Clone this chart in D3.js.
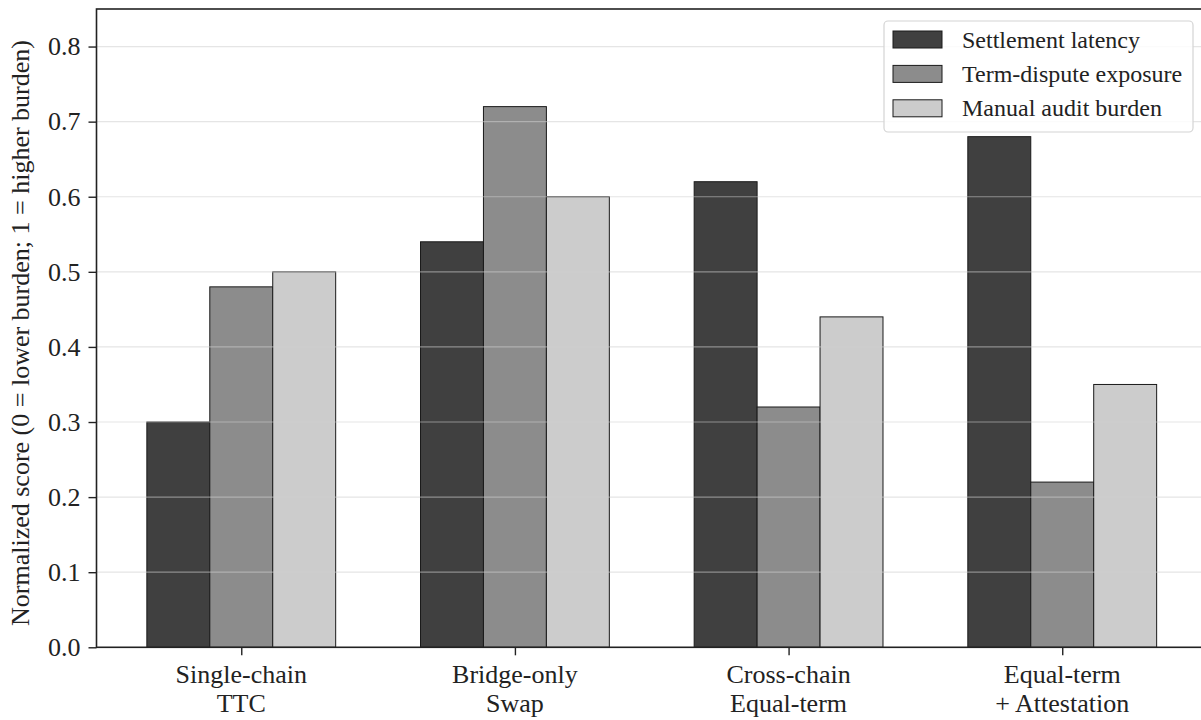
<!DOCTYPE html>
<html><head><meta charset="utf-8">
<script src="https://cdn.jsdelivr.net/npm/d3@7"></script>
<style>body{margin:0;background:#fff}svg{display:block}text{font-family:"Liberation Serif","Times New Roman",serif;fill:#222}</style>
</head><body><svg id="c" width="1201" height="720"></svg>
<script>
const categories = [["Single-chain","TTC"],["Bridge-only","Swap"],["Cross-chain","Equal-term"],["Equal-term","+ Attestation"]];
const seriesNames = ["Settlement latency","Term-dispute exposure","Manual audit burden"];
const settlementLatency = [0.30, 0.54, 0.62, 0.68];
const termDispute = [0.48, 0.72, 0.32, 0.22];
const manualAudit = [0.50, 0.60, 0.44, 0.35];
const yTicks = [0.0,0.1,0.2,0.3,0.4,0.5,0.6,0.7,0.8];
const colors = ["#404040","#8c8c8c","#cccccc"];
const series = [settlementLatency, termDispute, manualAudit];

const svg = d3.select("#c");
const L = 96.5, R = 1207, T = 9, B = 647.3;
const x = d3.scaleLinear().domain([-0.529, 3.529]).range([L, R]);
const y = d3.scaleLinear().domain([0, 0.85]).range([B, T]);
const bw = 0.23;

const g = svg.append("g");
series.forEach((vals, s) => {
  g.selectAll(null).data(vals).enter().append("rect")
    .attr("x", (d,i) => x(i + (s-1)*bw - bw/2))
    .attr("width", x(bw) - x(0))
    .attr("y", d => y(d))
    .attr("height", d => y(0) - y(d))
    .attr("fill", colors[s]).attr("stroke", "#1a1a1a").attr("stroke-width", 1);
});
// grid
svg.append("g").selectAll("line").data(yTicks.filter(d=>d>0)).enter().append("line")
  .attr("x1", L).attr("x2", R).attr("y1", d=>y(d)).attr("y2", d=>y(d))
  .attr("stroke", "#d0d0d0").attr("stroke-opacity", 0.55).attr("stroke-width", 1.2);

// axes
const ya = d3.axisLeft(y).tickValues(yTicks).tickFormat(d3.format(".1f")).tickSize(8).tickPadding(8);
const yg = svg.append("g").attr("transform", `translate(${L},0)`).call(ya);
yg.select(".domain").remove();
yg.selectAll("line").attr("stroke","#222").attr("stroke-width",1.4);
yg.selectAll("text").attr("font-size",26).attr("font-family","Liberation Serif").attr("fill","#222");

const xa = d3.axisBottom(x).tickValues([0,1,2,3]).tickFormat("").tickSize(8);
const xg = svg.append("g").attr("transform", `translate(0,${B})`).call(xa);
xg.select(".domain").remove();
xg.selectAll("line").attr("stroke","#222").attr("stroke-width",1.4);
categories.forEach((c,i) => {
  const t = svg.append("text").attr("x", x(i)).attr("text-anchor","middle").attr("font-size",26);
  t.append("tspan").attr("x", x(i)).attr("y", 683).text(c[0]);
  t.append("tspan").attr("x", x(i)).attr("y", 712).text(c[1]);
});

// spines
svg.append("rect").attr("x", L).attr("y", T).attr("width", R-L).attr("height", B-T)
  .attr("fill","none").attr("stroke","#222").attr("stroke-width",1.6);

// y label
svg.append("text").attr("transform", `translate(28.5,333) rotate(-90)`)
  .attr("text-anchor","middle").attr("font-size",26)
  .text("Normalized score (0 = lower burden; 1 = higher burden)");

// legend
const lg = svg.append("g");
lg.append("rect").attr("x",884).attr("y",21).attr("width",309).attr("height",111).attr("rx",4)
  .attr("fill","#fff").attr("fill-opacity",0.85).attr("stroke","#d4d4d4").attr("stroke-width",1.2);
seriesNames.forEach((n,i) => {
  const yy = 31 + i*34.4;
  lg.append("rect").attr("x",893).attr("y",yy).attr("width",49).attr("height",17)
    .attr("fill",colors[i]).attr("stroke","#1a1a1a").attr("stroke-width",1);
  lg.append("text").attr("x",962).attr("y",yy+16.5).attr("font-size",24).text(n);
});
</script></body></html>
